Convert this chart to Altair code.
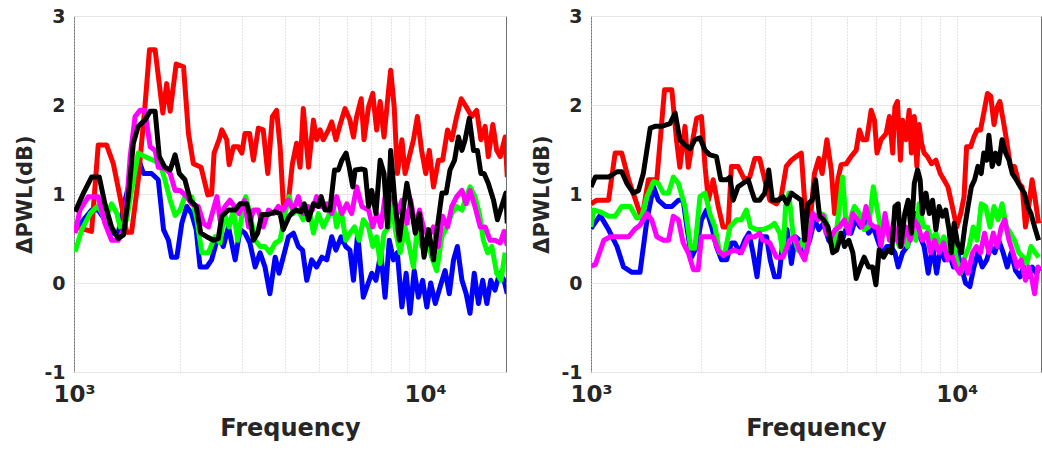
import altair as alt
import pandas as pd

# ---------------- data (log10 of frequency in Hz, dB) ----------------
# Left panel
L_red_lf = [3.003,3.050,3.069,3.093,3.112,3.131,3.150,3.164,3.183,3.202,3.215,3.231,3.253,3.264,3.274,3.291,3.312,3.326,3.340,3.362,3.381,3.392,3.399,3.414,3.421,3.435,3.442,3.454,3.468,3.478,3.487,3.500,3.511,3.525,3.539,3.552,3.565,3.577,3.587,3.596,3.611,3.622,3.634,3.644,3.653,3.668,3.682,3.691,3.701,3.710,3.725,3.734,3.746,3.758,3.772,3.786,3.796,3.805,3.818,3.826,3.839,3.851,3.862,3.872,3.883,3.896,3.902,3.912,3.921,3.934,3.943,3.955,3.967,3.978,3.990,4.002,4.012,4.024,4.038,4.050,4.064,4.076,4.090,4.103,4.117,4.133,4.147,4.159,4.171,4.180,4.193,4.204,4.214,4.228,4.234]
L_red_v = [0.63,0.58,1.55,1.55,1.34,0.97,0.57,0.57,1.16,1.98,2.62,2.62,1.91,2.24,1.93,2.46,2.43,1.68,1.34,1.30,0.99,1.00,1.46,1.62,1.72,1.61,1.33,1.53,1.53,1.46,1.68,1.68,1.38,1.74,1.72,1.23,1.87,1.94,1.53,0.89,0.93,1.34,1.57,1.30,1.96,1.30,1.83,1.61,1.72,1.61,1.72,1.81,1.61,1.78,1.96,1.83,1.64,1.87,2.07,1.61,1.98,2.13,1.72,2.04,1.64,2.17,2.39,1.98,1.23,1.61,1.23,1.42,1.61,1.87,1.49,1.23,1.49,1.08,1.38,1.38,1.72,1.61,1.87,2.07,1.98,1.87,1.94,1.61,1.76,1.42,1.78,1.49,1.42,1.64,1.19]

L_black_lf = [3.003,3.027,3.050,3.072,3.088,3.107,3.126,3.141,3.155,3.169,3.183,3.202,3.217,3.231,3.243,3.259,3.274,3.288,3.300,3.316,3.331,3.348,3.361,3.378,3.397,3.411,3.421,3.440,3.459,3.473,3.492,3.501,3.511,3.523,3.535,3.554,3.573,3.587,3.596,3.613,3.630,3.647,3.656,3.668,3.682,3.696,3.704,3.715,3.729,3.742,3.753,3.763,3.775,3.784,3.794,3.801,3.820,3.829,3.839,3.848,3.860,3.872,3.883,3.893,3.902,3.915,3.927,3.936,3.948,3.959,3.972,3.984,3.997,4.010,4.024,4.035,4.048,4.060,4.071,4.084,4.095,4.105,4.114,4.126,4.138,4.149,4.159,4.168,4.180,4.195,4.206,4.218,4.230,4.234]
L_black_v = [0.80,1.01,1.19,1.19,0.89,0.63,0.50,0.54,0.97,1.57,1.76,1.83,1.93,1.93,1.42,1.30,1.27,1.44,1.23,1.16,0.93,0.86,0.56,0.52,0.48,0.50,0.75,0.82,0.82,0.89,0.89,0.75,0.48,0.56,0.77,0.77,0.80,0.78,0.60,0.75,0.82,0.80,0.89,0.71,0.89,0.86,0.97,0.82,0.82,1.27,1.27,1.38,1.46,1.30,1.08,1.27,1.28,1.27,0.86,1.04,0.78,1.38,1.23,0.63,1.49,0.86,0.48,0.78,1.12,0.89,0.56,0.78,0.29,0.60,0.26,0.63,1.01,1.01,1.27,1.38,1.64,1.49,1.61,1.85,1.49,1.49,1.23,1.23,1.12,0.93,0.71,0.86,1.01,0.67]

L_magenta_lf = [3.003,3.017,3.041,3.069,3.088,3.107,3.126,3.145,3.160,3.174,3.188,3.202,3.217,3.231,3.240,3.259,3.274,3.288,3.302,3.321,3.335,3.354,3.369,3.383,3.407,3.416,3.430,3.444,3.457,3.470,3.485,3.497,3.511,3.525,3.539,3.554,3.568,3.582,3.596,3.611,3.625,3.639,3.652,3.666,3.679,3.691,3.704,3.720,3.734,3.748,3.763,3.777,3.791,3.805,3.820,3.839,3.851,3.862,3.874,3.886,3.898,3.910,3.921,3.934,3.948,3.959,3.972,3.984,3.995,4.010,4.024,4.038,4.050,4.064,4.076,4.090,4.105,4.117,4.128,4.142,4.157,4.171,4.185,4.199,4.214,4.225,4.234]
L_magenta_v = [0.56,0.82,0.97,0.97,0.67,0.48,0.48,0.63,1.42,1.87,1.94,1.94,1.53,1.49,1.30,1.29,1.23,1.04,1.04,0.97,0.89,0.86,0.67,0.63,0.97,0.71,0.86,0.93,0.86,0.78,0.93,0.63,0.82,0.82,0.63,0.82,0.78,0.86,0.82,0.93,0.82,0.97,0.78,0.86,0.82,0.97,0.86,0.89,0.78,0.97,0.78,0.89,0.78,1.08,0.86,0.82,0.63,0.78,0.63,0.97,0.93,0.97,0.78,0.93,0.67,0.93,0.63,0.82,0.63,0.52,0.63,0.41,0.75,0.63,0.86,0.97,1.04,0.89,1.04,0.86,0.63,0.63,0.48,0.48,0.45,0.58,0.42]

L_green_lf = [3.003,3.022,3.046,3.069,3.088,3.107,3.122,3.131,3.150,3.164,3.183,3.202,3.226,3.245,3.259,3.274,3.288,3.302,3.316,3.335,3.350,3.364,3.383,3.397,3.402,3.416,3.428,3.442,3.454,3.466,3.478,3.489,3.501,3.516,3.530,3.544,3.558,3.573,3.587,3.601,3.613,3.625,3.639,3.653,3.668,3.682,3.696,3.710,3.725,3.736,3.748,3.761,3.774,3.786,3.799,3.812,3.824,3.839,3.851,3.862,3.872,3.883,3.896,3.905,3.917,3.929,3.943,3.955,3.967,3.978,3.990,4.005,4.019,4.033,4.048,4.062,4.076,4.090,4.105,4.117,4.128,4.142,4.155,4.166,4.178,4.190,4.204,4.216,4.228]
L_green_v = [0.35,0.60,0.78,0.87,0.71,0.89,0.78,0.63,0.71,1.04,1.46,1.42,1.38,1.34,1.16,0.93,0.76,0.82,0.97,0.97,0.71,0.34,0.34,0.48,0.52,0.45,0.78,0.63,0.82,0.48,0.75,0.97,0.78,0.48,0.41,0.41,0.34,0.45,0.48,0.78,0.97,0.78,0.82,0.71,0.86,0.56,0.78,0.63,0.75,0.93,0.63,0.82,0.48,0.56,0.63,0.48,0.71,0.63,0.41,0.52,0.22,0.56,0.63,0.89,0.56,0.34,0.63,0.41,0.18,0.63,0.41,0.48,0.29,0.14,0.52,0.63,0.78,0.86,0.82,0.97,1.08,0.97,0.78,0.48,0.34,0.41,0.11,0.03,0.34]

L_blue_lf = [3.003,3.027,3.050,3.069,3.088,3.107,3.126,3.141,3.155,3.169,3.183,3.198,3.221,3.240,3.255,3.269,3.278,3.293,3.307,3.321,3.335,3.348,3.359,3.378,3.392,3.407,3.413,3.425,3.440,3.459,3.473,3.487,3.501,3.516,3.530,3.544,3.558,3.573,3.584,3.596,3.611,3.625,3.639,3.651,3.663,3.677,3.691,3.706,3.720,3.734,3.746,3.761,3.774,3.786,3.796,3.808,3.824,3.848,3.860,3.874,3.886,3.898,3.910,3.921,3.934,3.946,3.957,3.969,3.981,3.993,4.005,4.016,4.029,4.043,4.057,4.069,4.081,4.092,4.105,4.117,4.128,4.140,4.152,4.164,4.176,4.187,4.199,4.212,4.225,4.234]
L_blue_v = [0.60,0.71,0.82,0.82,0.71,0.56,0.56,0.86,1.08,1.16,1.40,1.23,1.23,1.16,0.60,0.48,0.29,0.29,0.67,0.86,0.78,0.60,0.18,0.18,0.26,0.48,0.52,0.41,0.63,0.26,0.60,0.56,0.45,0.18,0.34,0.18,-0.12,0.29,0.11,0.29,0.52,0.56,0.41,0.37,0.03,0.26,0.18,0.29,0.26,0.52,0.37,0.52,0.41,0.37,0.03,0.56,-0.16,0.11,0.03,0.34,-0.16,0.48,0.26,0.34,-0.27,0.11,-0.34,0.14,-0.16,0.03,-0.27,0.00,-0.23,-0.04,0.14,-0.12,0.26,0.41,0.03,-0.12,-0.34,0.11,-0.23,0.03,-0.23,0.03,-0.08,0.11,0.03,-0.12]

# Right panel
R_red_lf = [3.000,3.016,3.048,3.066,3.084,3.103,3.139,3.157,3.180,3.201,3.221,3.234,3.243,3.257,3.266,3.280,3.289,3.302,3.312,3.321,3.334,3.348,3.361,3.375,3.384,3.402,3.420,3.434,3.448,3.461,3.475,3.489,3.507,3.520,3.534,3.548,3.561,3.575,3.584,3.598,3.611,3.623,3.632,3.645,3.657,3.666,3.675,3.684,3.698,3.711,3.725,3.734,3.743,3.754,3.766,3.775,3.782,3.793,3.807,3.816,3.825,3.831,3.838,3.846,3.852,3.861,3.870,3.876,3.884,3.891,3.897,3.904,3.911,3.920,3.931,3.943,3.955,3.965,3.976,3.988,4.000,4.011,4.020,4.027,4.038,4.047,4.056,4.065,4.074,4.084,4.093,4.102,4.111,4.118,4.127,4.136,4.147,4.158,4.170,4.179,4.188,4.197,4.206,4.215,4.224]
R_red_v = [0.89,0.93,0.93,1.46,1.46,1.16,0.72,1.16,1.16,2.17,2.17,1.60,1.30,1.76,1.30,1.65,1.85,1.87,1.30,0.93,1.16,0.86,0.63,0.63,1.31,1.31,1.16,1.19,1.40,1.40,1.16,0.93,0.89,0.97,1.31,1.38,1.42,1.46,0.93,0.63,1.23,1.40,1.23,1.61,1.27,0.78,1.16,1.33,1.34,1.42,1.49,1.72,1.61,1.61,1.94,1.83,1.46,1.61,1.68,1.87,1.46,1.98,2.04,1.38,1.83,1.61,1.94,1.46,1.87,1.31,1.78,1.57,1.46,1.42,1.34,1.38,1.23,1.16,1.08,0.86,0.63,0.78,0.97,1.53,1.53,1.64,1.72,1.72,1.91,2.13,2.10,1.78,1.98,2.04,1.83,1.61,1.31,1.31,1.12,1.08,0.63,0.86,1.16,0.93,0.67]

R_black_lf = [3.000,3.012,3.048,3.071,3.084,3.098,3.116,3.130,3.143,3.162,3.175,3.193,3.216,3.230,3.243,3.257,3.271,3.284,3.298,3.312,3.325,3.343,3.355,3.371,3.380,3.389,3.402,3.416,3.430,3.439,3.448,3.461,3.475,3.486,3.496,3.511,3.525,3.536,3.548,3.561,3.575,3.584,3.593,3.605,3.614,3.625,3.636,3.648,3.661,3.672,3.684,3.693,3.705,3.716,3.725,3.736,3.747,3.759,3.770,3.779,3.788,3.800,3.811,3.822,3.831,3.840,3.847,3.858,3.867,3.876,3.884,3.893,3.900,3.906,3.916,3.925,3.934,3.943,3.952,3.961,3.970,3.979,3.985,3.993,4.002,4.013,4.022,4.031,4.040,4.049,4.058,4.067,4.074,4.082,4.088,4.097,4.106,4.115,4.124,4.134,4.143,4.152,4.163,4.174,4.185,4.194,4.203,4.213,4.224]
R_black_v = [1.08,1.19,1.19,1.25,1.25,1.12,1.01,1.04,1.23,1.74,1.76,1.76,1.79,1.91,1.61,1.55,1.51,1.61,1.63,1.49,1.44,1.42,1.16,1.16,1.19,0.93,1.08,1.12,1.16,1.04,0.93,0.93,1.01,1.27,0.93,0.93,0.97,0.89,1.01,0.97,0.93,0.48,0.89,0.93,1.16,0.75,0.71,0.63,0.34,0.37,0.56,0.41,0.48,0.34,0.05,0.18,0.29,0.18,0.18,-0.02,0.37,0.29,0.37,0.34,0.86,0.89,0.41,0.78,0.93,0.56,1.12,1.27,1.16,0.78,1.01,0.78,0.93,0.60,0.86,0.75,0.82,0.60,0.34,0.67,0.45,0.34,0.63,0.86,1.08,1.16,1.31,1.23,1.46,1.38,1.66,1.31,1.46,1.34,1.61,1.46,1.38,1.23,1.16,1.08,1.01,0.86,0.78,0.63,0.48]

R_green_lf = [3.000,3.007,3.025,3.048,3.066,3.084,3.107,3.125,3.139,3.153,3.171,3.184,3.198,3.212,3.225,3.239,3.257,3.273,3.284,3.298,3.312,3.325,3.339,3.352,3.366,3.380,3.398,3.411,3.425,3.436,3.452,3.470,3.489,3.502,3.516,3.525,3.532,3.541,3.552,3.566,3.578,3.590,3.602,3.614,3.627,3.638,3.652,3.666,3.677,3.688,3.698,3.708,3.720,3.734,3.747,3.759,3.772,3.786,3.797,3.809,3.820,3.831,3.843,3.855,3.865,3.876,3.888,3.897,3.909,3.920,3.931,3.943,3.955,3.965,3.976,3.988,4.000,4.011,4.022,4.034,4.045,4.056,4.067,4.079,4.091,4.102,4.113,4.124,4.136,4.147,4.158,4.170,4.182,4.192,4.203,4.215,4.224]
R_green_v = [0.63,0.82,0.80,0.75,0.75,0.86,0.86,0.73,0.75,0.97,1.14,1.12,1.01,1.01,1.19,1.12,0.86,0.39,0.39,0.97,1.01,0.78,0.63,0.34,0.34,0.63,0.71,0.71,0.82,0.63,0.60,0.60,0.63,0.67,0.56,0.34,0.86,1.01,0.56,0.37,0.48,0.34,0.71,0.75,0.78,0.76,0.56,0.41,0.78,1.19,0.63,0.71,0.86,0.78,0.60,0.63,1.08,0.75,0.52,0.63,0.48,0.56,0.41,0.60,0.41,0.63,0.48,0.89,0.63,0.63,0.48,0.56,0.41,0.52,0.34,0.48,0.26,0.11,0.29,0.41,0.63,0.48,0.89,0.86,0.63,0.86,0.71,0.89,0.63,0.56,0.48,0.34,0.29,0.22,0.41,0.34,0.29]

R_blue_lf = [3.000,3.025,3.048,3.071,3.089,3.112,3.134,3.153,3.171,3.184,3.203,3.221,3.239,3.252,3.262,3.275,3.289,3.302,3.316,3.330,3.343,3.357,3.371,3.384,3.393,3.407,3.420,3.432,3.443,3.454,3.466,3.480,3.490,3.502,3.514,3.525,3.536,3.548,3.559,3.570,3.584,3.598,3.611,3.623,3.636,3.650,3.663,3.675,3.687,3.699,3.711,3.723,3.736,3.747,3.759,3.772,3.784,3.797,3.809,3.820,3.831,3.840,3.852,3.865,3.876,3.888,3.900,3.911,3.922,3.934,3.945,3.956,3.967,3.979,3.991,4.002,4.013,4.024,4.036,4.047,4.058,4.070,4.082,4.093,4.104,4.115,4.127,4.138,4.149,4.161,4.173,4.183,4.194,4.206,4.218,4.227]
R_blue_v = [0.61,0.76,0.60,0.41,0.18,0.12,0.12,0.71,1.08,0.93,0.86,0.86,0.93,0.93,0.63,0.29,0.41,0.71,0.82,0.63,0.41,0.26,0.26,0.45,0.45,0.34,0.48,0.56,0.34,0.07,0.52,0.52,0.26,0.07,0.07,0.48,0.60,0.22,0.52,0.48,0.34,0.48,0.71,0.60,0.67,0.48,0.41,0.56,0.48,0.63,0.56,0.71,0.63,0.71,0.56,0.63,0.48,0.34,0.41,0.41,0.34,0.18,0.34,0.41,0.56,0.78,0.52,0.41,0.11,0.41,0.11,0.41,0.26,0.34,0.18,0.34,0.18,0.00,-0.04,0.18,0.34,0.18,0.26,0.41,0.34,0.48,0.34,0.18,0.34,0.14,0.07,0.18,0.07,0.18,0.11,0.18]

R_magenta_lf = [3.000,3.012,3.035,3.053,3.080,3.103,3.121,3.134,3.153,3.166,3.180,3.198,3.212,3.225,3.239,3.252,3.266,3.280,3.293,3.302,3.321,3.334,3.348,3.361,3.375,3.391,3.411,3.430,3.448,3.461,3.470,3.489,3.507,3.525,3.543,3.557,3.570,3.584,3.596,3.607,3.620,3.634,3.643,3.657,3.668,3.679,3.693,3.705,3.716,3.729,3.741,3.752,3.763,3.775,3.784,3.793,3.804,3.816,3.827,3.838,3.849,3.861,3.873,3.884,3.895,3.906,3.918,3.929,3.940,3.952,3.964,3.975,3.985,3.997,4.009,4.020,4.031,4.043,4.054,4.065,4.076,4.088,4.100,4.111,4.122,4.131,4.143,4.154,4.165,4.176,4.188,4.197,4.206,4.213,4.222,4.229]
R_magenta_v = [0.19,0.21,0.48,0.52,0.52,0.52,0.61,0.65,0.78,0.71,0.52,0.48,0.48,0.75,0.71,0.45,0.34,0.15,0.15,0.52,0.52,0.52,0.37,0.31,0.34,0.37,0.34,0.52,0.52,0.56,0.48,0.45,0.29,0.29,0.48,0.52,0.37,0.26,0.48,0.78,0.71,0.75,0.56,0.52,0.60,0.63,0.71,0.56,0.78,0.71,0.63,0.86,0.67,0.63,0.63,0.41,0.78,0.48,0.67,0.48,0.41,0.63,0.48,0.71,0.63,0.48,0.56,0.34,0.48,0.34,0.45,0.26,0.34,0.18,0.11,0.26,0.11,0.34,0.41,0.34,0.56,0.34,0.56,0.41,0.63,0.71,0.48,0.34,0.18,0.26,0.03,0.18,0.03,-0.12,0.18,0.14]

X_GRID = [1000, 2000, 3000, 4000, 5000, 6000, 7000, 8000, 9000, 10000]
Y_TICKS = [-1, 0, 1, 2, 3]

COLORS = {"blue": "#0000ff", "red": "#ff0000", "green": "#00ff00",
          "magenta": "#ff00ff", "black": "#000000"}
ORDER = ["blue", "red", "green", "magenta", "black"]

LEFT = {"red": (L_red_lf, L_red_v), "black": (L_black_lf, L_black_v),
        "magenta": (L_magenta_lf, L_magenta_v), "green": (L_green_lf, L_green_v),
        "blue": (L_blue_lf, L_blue_v)}
RIGHT = {"red": (R_red_lf, R_red_v), "black": (R_black_lf, R_black_v),
         "magenta": (R_magenta_lf, R_magenta_v), "green": (R_green_lf, R_green_v),
         "blue": (R_blue_lf, R_blue_v)}

FONT = "DejaVu Sans"
TXT = "#262626"


def panel(series, width):
    xs = alt.X("f:Q", title="Frequency",
               scale=alt.Scale(type="log", domain=[1000, 17000], nice=False),
               axis=alt.Axis(values=X_GRID, labelFlush=False,
                             labelExpr="datum.value == 1000 ? '10³' : (datum.value == 10000 ? '10⁴' : '')"))
    ys = alt.Y("v:Q", title="ΔPWL(dB)",
               scale=alt.Scale(domain=[-1, 3], nice=False),
               axis=alt.Axis(values=Y_TICKS, labelExpr="datum.value + ''"))
    layers = []
    for name in ORDER:
        lf, v = series[name]
        df = pd.DataFrame({"f": [10 ** x for x in lf], "v": v})
        layers.append(
            alt.Chart(df).mark_line(color=COLORS[name], strokeWidth=5, clip=True,
                                    strokeJoin="round")
            .encode(x=xs, y=ys)
        )
    return alt.layer(*layers).properties(width=width, height=356)


chart = alt.hconcat(panel(LEFT, 432), panel(RIGHT, 450), spacing=85, bounds="flush").properties(
    padding={"left": 14, "top": 6, "right": 0, "bottom": 0}
).configure_view(
    stroke="#707070", strokeWidth=1
).configure_axis(
    labelFont=FONT, titleFont=FONT, labelFontWeight="bold", titleFontWeight="bold",
    labelColor=TXT, titleColor=TXT, domain=False, ticks=False, tickSize=0,
    grid=True
).configure_axisX(
    labelFontSize=23, titleFontSize=24, labelPadding=11, titlePadding=10,
    gridColor="#c8c8c8", gridDash=[1, 2], gridWidth=1
).configure_axisY(
    labelFontSize=19, titleFontSize=21, labelPadding=9, titlePadding=8,
    gridColor="#e6e6e6", gridWidth=1
)

chart.save("out.html", embed_options={"renderer": "svg", "actions": False})
